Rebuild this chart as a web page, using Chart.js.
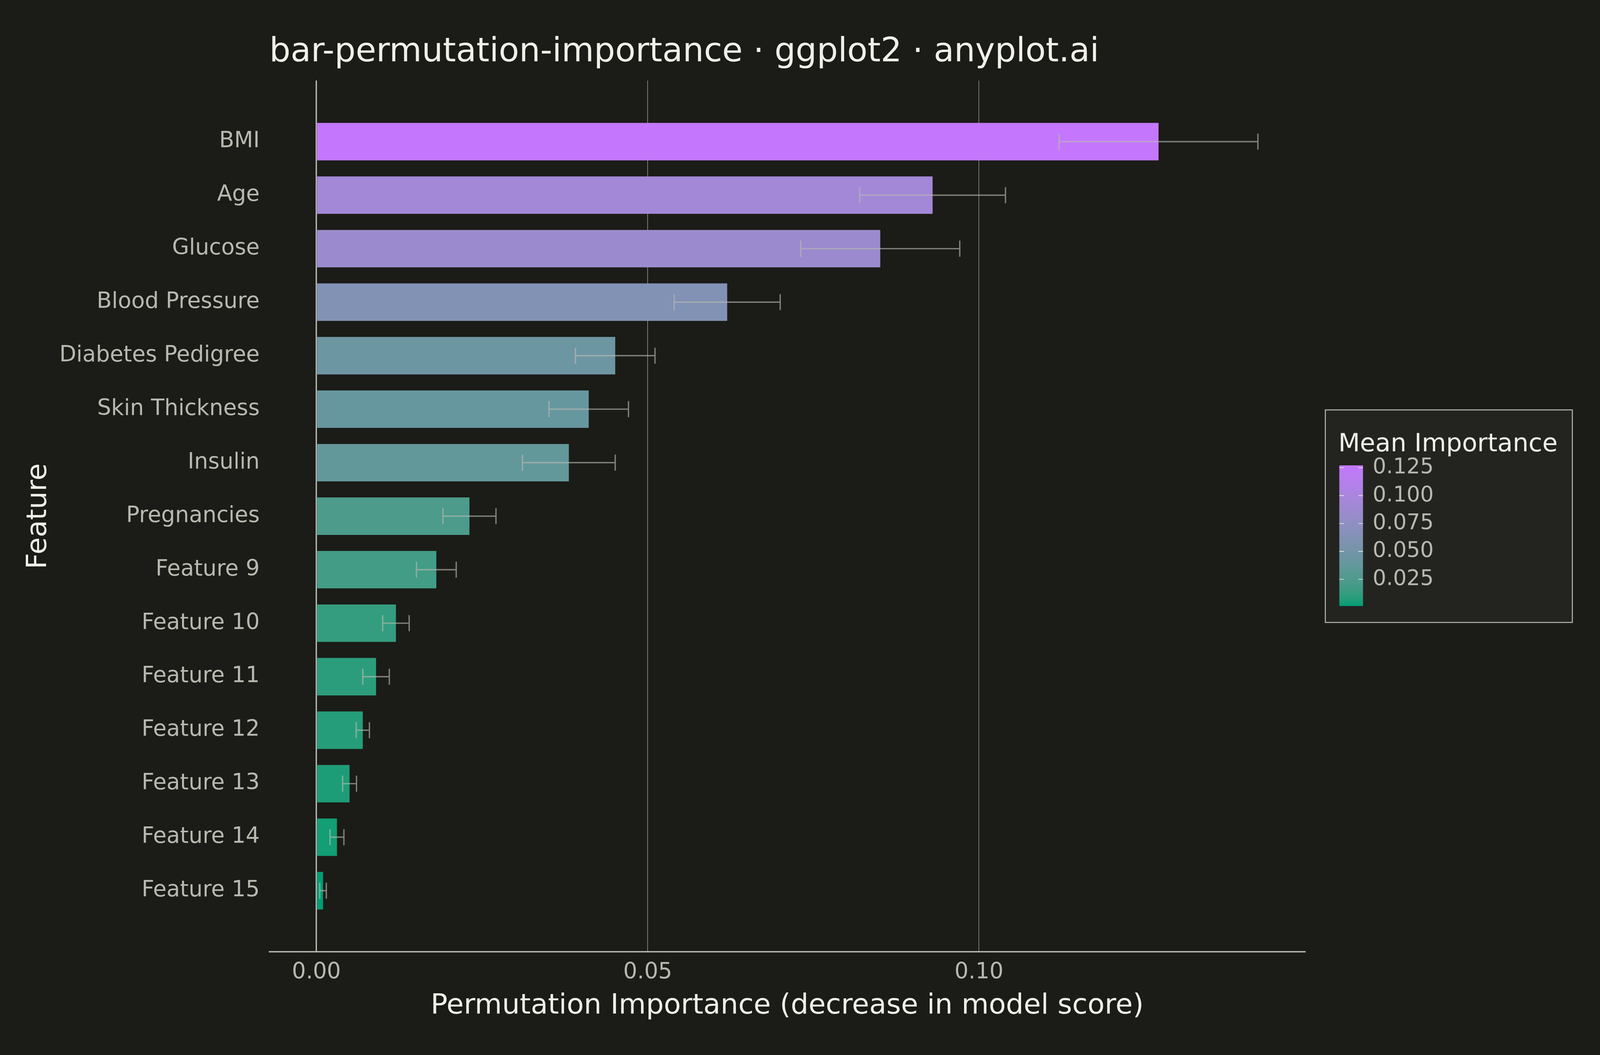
<!DOCTYPE html>
<html>
<head>
<meta charset="utf-8">
<title>bar-permutation-importance</title>
<script src="https://cdn.jsdelivr.net/npm/chart.js@4.4.1/dist/chart.umd.min.js"></script>
<style>
  html, body { margin: 0; padding: 0; background: #1b1b17; overflow: hidden; }
  canvas { display: block; }
</style>
</head>
<body>
<canvas id="importanceChart"></canvas>
<script>
// data, most important first
var features = ["BMI", "Age", "Glucose", "Blood Pressure", "Diabetes Pedigree", "Skin Thickness",
  "Insulin", "Pregnancies", "Feature 9", "Feature 10", "Feature 11", "Feature 12",
  "Feature 13", "Feature 14", "Feature 15"];
var importance = [0.1271, 0.0930, 0.0851, 0.0620, 0.0451, 0.0411, 0.0381, 0.0231, 0.0181,
  0.0120, 0.0090, 0.0070, 0.0050, 0.0031, 0.0010];
var importanceStd = [0.0150, 0.0110, 0.0120, 0.0080, 0.0060, 0.0060, 0.0070, 0.0040, 0.0030,
  0.0020, 0.0020, 0.0010, 0.00105, 0.00105, 0.0005];
var xTicks = [0, 0.05, 0.10];
var legendTicks = [0.025, 0.050, 0.075, 0.100, 0.125];

var lowColor = "#009E73";
var highColor = "#C477FD";
var bg = "#1b1b17";
var inkLight = "#f0efe8";
var inkMid = "#b8b8b0";

// layout was measured on a 4800x2700 picture; scale it to the window we get
var W = window.innerWidth || 4800;
var H = window.innerHeight || 2700;
var sx = W / 4800, sy = H / 2700, fs = Math.min(sx, sy);

// ggplot style gradient, interpolated in Lab space
function hexToRgb(h) {
  return [parseInt(h.slice(1, 3), 16), parseInt(h.slice(3, 5), 16), parseInt(h.slice(5, 7), 16)];
}
function toLinear(c) {
  c = c / 255;
  return c <= 0.04045 ? c / 12.92 : Math.pow((c + 0.055) / 1.055, 2.4);
}
function fromLinear(c) {
  var v = c <= 0.0031308 ? 12.92 * c : 1.055 * Math.pow(c, 1 / 2.4) - 0.055;
  return Math.round(Math.max(0, Math.min(1, v)) * 255);
}
function rgbToLab(rgb) {
  var r = toLinear(rgb[0]), g = toLinear(rgb[1]), b = toLinear(rgb[2]);
  var x = (0.4124 * r + 0.3576 * g + 0.1805 * b) / 0.95047;
  var y = 0.2126 * r + 0.7152 * g + 0.0722 * b;
  var z = (0.0193 * r + 0.1192 * g + 0.9505 * b) / 1.08883;
  function f(t) { return t > 0.008856 ? Math.cbrt(t) : 7.787 * t + 16 / 116; }
  var fx = f(x), fy = f(y), fz = f(z);
  return [116 * fy - 16, 500 * (fx - fy), 200 * (fy - fz)];
}
function labToCss(lab) {
  var fy = (lab[0] + 16) / 116, fx = fy + lab[1] / 500, fz = fy - lab[2] / 200;
  function finv(t) { return t * t * t > 0.008856 ? t * t * t : (t - 16 / 116) / 7.787; }
  var x = finv(fx) * 0.95047, y = finv(fy), z = finv(fz) * 1.08883;
  var r = 3.2406 * x - 1.5372 * y - 0.4986 * z;
  var g = -0.9689 * x + 1.8758 * y + 0.0415 * z;
  var b = 0.0557 * x - 0.2040 * y + 1.0570 * z;
  return "rgb(" + fromLinear(r) + "," + fromLinear(g) + "," + fromLinear(b) + ")";
}
var labLow = rgbToLab(hexToRgb(lowColor));
var labHigh = rgbToLab(hexToRgb(highColor));
function gradientColor(t) {
  return labToCss([0, 1, 2].map(function(k) { return labLow[k] + (labHigh[k] - labLow[k]) * t; }));
}

var vMin = Math.min.apply(null, importance);
var vMax = Math.max.apply(null, importance);
var barColors = importance.map(function(v) { return gradientColor((v - vMin) / (vMax - vMin)); });

var positions = features.map(function(f, i) { return i + 1; });
var points = importance.map(function(v, i) { return { x: v, y: positions[i] }; });

// 5% expansion like ggplot, on bars + error bars
var upper = Math.max.apply(null, importance.map(function(v, i) { return v + importanceStd[i]; }));
var xMin = -upper * 0.05;
var xMax = upper * 1.05;

var backgroundPlugin = {
  id: "background",
  beforeDraw: function(chart) {
    var ctx = chart.ctx;
    ctx.save();
    ctx.fillStyle = bg;
    ctx.fillRect(0, 0, chart.width, chart.height);
    ctx.restore();
  }
};

var errorBarPlugin = {
  id: "errorBars",
  afterDatasetsDraw: function(chart) {
    var ctx = chart.ctx, xs = chart.scales.x, ys = chart.scales.y;
    ctx.save();
    ctx.strokeStyle = "rgba(184,184,176,0.65)";
    ctx.lineWidth = 4 * fs;
    ctx.beginPath();
    for (var i = 0; i < importance.length; i++) {
      var yc = ys.getPixelForValue(positions[i]);
      var h = Math.abs(ys.getPixelForValue(positions[i] + 0.15) - yc);
      var x0 = xs.getPixelForValue(importance[i] - importanceStd[i]);
      var x1 = xs.getPixelForValue(importance[i] + importanceStd[i]);
      ctx.moveTo(x0, yc - h); ctx.lineTo(x0, yc + h);
      ctx.moveTo(x0, yc); ctx.lineTo(x1, yc);
      ctx.moveTo(x1, yc - h); ctx.lineTo(x1, yc + h);
    }
    ctx.stroke();
    ctx.restore();
  }
};

var titlePlugin = {
  id: "plotTitle",
  afterDraw: function(chart) {
    var ctx = chart.ctx;
    ctx.save();
    ctx.fillStyle = inkLight;
    ctx.font = (100 * fs) + "px 'DejaVu Sans'";
    ctx.textAlign = "left";
    ctx.textBaseline = "alphabetic";
    ctx.fillText("bar-permutation-importance \u00b7 ggplot2 \u00b7 anyplot.ai", chart.chartArea.left, 157 * sy);
    ctx.restore();
  }
};

var colorbarPlugin = {
  id: "colorbar",
  afterDraw: function(chart) {
    var ctx = chart.ctx;
    var box = { left: 3976 * sx, top: 1049 * sy, right: 4717 * sx, bottom: 1593 * sy };
    var bar = { left: 4018 * sx, top: 1191 * sy, width: 71 * fs, height: 360 * sy };
    ctx.save();
    ctx.fillStyle = "#232420";
    ctx.fillRect(box.left, box.top, box.right - box.left, box.bottom - box.top);
    ctx.strokeStyle = inkMid;
    ctx.lineWidth = 3 * fs;
    ctx.strokeRect(box.left, box.top, box.right - box.left, box.bottom - box.top);

    ctx.fillStyle = inkLight;
    ctx.font = (75 * fs) + "px 'DejaVu Sans'";
    ctx.textAlign = "left";
    ctx.textBaseline = "alphabetic";
    ctx.fillText("Mean Importance", bar.left - 3 * fs, 1155 * sy);

    var grad = ctx.createLinearGradient(0, bar.top + bar.height, 0, bar.top);
    for (var s = 0; s <= 20; s++) grad.addColorStop(s / 20, gradientColor(s / 20));
    ctx.fillStyle = grad;
    ctx.fillRect(bar.left, bar.top, bar.width, bar.height);

    ctx.font = (64 * fs) + "px 'DejaVu Sans'";
    ctx.textBaseline = "middle";
    legendTicks.forEach(function(v) {
      var y = bar.top + bar.height - (v - vMin) / (vMax - vMin) * bar.height;
      var tl = 14 * fs;
      ctx.strokeStyle = inkLight;
      ctx.lineWidth = 2 * fs;
      ctx.beginPath();
      ctx.moveTo(bar.left, y); ctx.lineTo(bar.left + tl, y);
      ctx.moveTo(bar.left + bar.width - tl, y); ctx.lineTo(bar.left + bar.width, y);
      ctx.stroke();
      ctx.fillStyle = inkMid;
      ctx.fillText(v.toFixed(3), bar.left + bar.width + 29 * fs, y);
    });
    ctx.restore();
  }
};

Chart.defaults.font.family = "'DejaVu Sans', sans-serif";

var canvas = document.getElementById("importanceChart");
canvas.width = W;
canvas.height = H;
canvas.style.width = W + "px";
canvas.style.height = H + "px";

var chart = new Chart(canvas, {
  type: "bar",
  data: {
    datasets: [{
      data: points,
      backgroundColor: barColors,
      borderWidth: 0,
      barPercentage: 0.7,
      categoryPercentage: 1.0
    }]
  },
  options: {
    indexAxis: "y",
    responsive: false,
    animation: false,
    devicePixelRatio: 1,
    layout: { padding: { top: 206 * sy, right: 885 * sx, left: 0, bottom: 0 } },
    plugins: {
      legend: { display: false },
      tooltip: { enabled: false },
      title: { display: false }
    },
    scales: {
      x: {
        type: "linear",
        position: "bottom",
        min: xMin,
        max: xMax,
        afterBuildTicks: function(scale) {
          scale.ticks = xTicks.map(function(v) { return { value: v }; });
        },
        afterFit: function(scale) { scale.height = 264 * sy; },
        grid: {
          color: function(c) { return c.tick && c.tick.value === 0 ? inkMid : "rgba(184,184,176,0.7)"; },
          lineWidth: function(c) { return (c.tick && c.tick.value === 0 ? 4 : 2) * fs; },
          drawTicks: false
        },
        border: { display: true, color: inkMid, width: 4 * fs },
        ticks: {
          autoSkip: false,
          padding: 20 * sy,
          color: inkMid,
          font: { size: 66 * fs },
          callback: function(v) { return Number(v).toFixed(2); }
        },
        title: {
          display: true,
          text: "Permutation Importance (decrease in model score)",
          color: inkLight,
          font: { size: 84 * fs, weight: "normal" },
          padding: { top: 0, bottom: 125 * sy - 50.4 * fs }
        }
      },
      y: {
        type: "linear",
        reverse: true,
        min: 0.4,
        max: 15.6,
        afterBuildTicks: function(scale) {
          scale.ticks = positions.map(function(p) { return { value: p }; });
        },
        afterFit: function(scale) { scale.width = 808 * sx; },
        grid: { display: false, drawTicks: false },
        border: { display: false },
        ticks: {
          autoSkip: false,
          padding: 29 * sx,
          color: inkMid,
          font: { size: 66 * fs },
          callback: function(v) { return features[Math.round(v) - 1]; }
        },
        title: {
          display: true,
          text: "Feature",
          color: inkLight,
          font: { size: 84 * fs, weight: "normal" },
          padding: { top: 116 * sx - 50.4 * fs, bottom: 0 }
        }
      }
    }
  },
  plugins: [backgroundPlugin, errorBarPlugin, titlePlugin, colorbarPlugin]
});
</script>
</body>
</html>
